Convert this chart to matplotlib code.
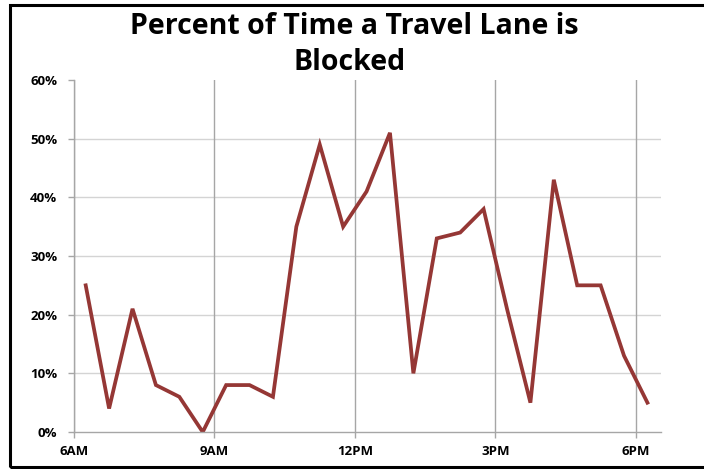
import matplotlib.pyplot as plt
from matplotlib.patches import Rectangle
from matplotlib.ticker import PercentFormatter

# half-hour samples, offset by 15 minutes (hours of day)
hours = [6.25, 6.75, 7.25, 7.75, 8.25, 8.75, 9.25, 9.75, 10.25, 10.75,
         11.25, 11.75, 12.25, 12.75, 13.25, 13.75, 14.25, 14.75, 15.25,
         15.75, 16.25, 16.75, 17.25, 17.75, 18.25]
pct_blocked = [25, 4, 21, 8, 6, 0, 8, 8, 6, 35,
               49, 35, 41, 51, 10, 33, 34, 38, 21,
               5, 43, 25, 25, 13, 5]

tick_hours = [6, 9, 12, 15, 18]
tick_labels = ["6AM", "9AM", "12PM", "3PM", "6PM"]
y_ticks = [0, 10, 20, 30, 40, 50, 60]

fig = plt.figure(figsize=(7.04, 4.69), dpi=100)
ax = fig.add_axes([74 / 704, 1 - 432 / 469, (661 - 74) / 704, (432 - 80) / 469])

ax.plot(hours, pct_blocked, color="#953735", linewidth=2.7, solid_joinstyle="miter")

ax.set_xlim(6, 18.54)
ax.set_ylim(0, 60)
ax.set_xticks(tick_hours)
ax.set_xticklabels(tick_labels)
ax.set_yticks(y_ticks)
ax.yaxis.set_major_formatter(PercentFormatter(decimals=0))

for y in y_ticks[1:-1]:
    ax.axhline(y, color="#d4d4d4", linewidth=1.0, zorder=0)
for x in tick_hours:
    ax.axvline(x, color="#a6a6a6", linewidth=1.0, zorder=0)

for side in ["top", "right"]:
    ax.spines[side].set_visible(False)
for side in ["left", "bottom"]:
    ax.spines[side].set_color("#a6a6a6")
    ax.spines[side].set_linewidth(1.0)

ax.tick_params(axis="both", colors="#a6a6a6", length=4, width=1.0,
               labelcolor="black", labelsize=9.5)
ax.tick_params(axis="y", pad=8)
ax.tick_params(axis="x", pad=5)
for lbl in ax.get_xticklabels() + ax.get_yticklabels():
    lbl.set_fontweight("bold")
    lbl.set_family("Open Sans")

fig.text(0.503, 1 - 27 / 469, "Percent of Time a Travel Lane is", ha="center", va="center",
         fontsize=20.5, fontweight="bold", family="Open Sans")
fig.text(0.497, 1 - 62 / 469, "Blocked", ha="center", va="center",
         fontsize=20.5, fontweight="bold", family="Open Sans")

# chart frame (left, top and bottom edges visible)
fig.patches.append(Rectangle((10 / 704, 1 - 467 / 469), 1.0, (467 - 5) / 469,
                             transform=fig.transFigure, fill=False,
                             edgecolor="black", linewidth=2.2))

fig.savefig("out.png", dpi=100)
